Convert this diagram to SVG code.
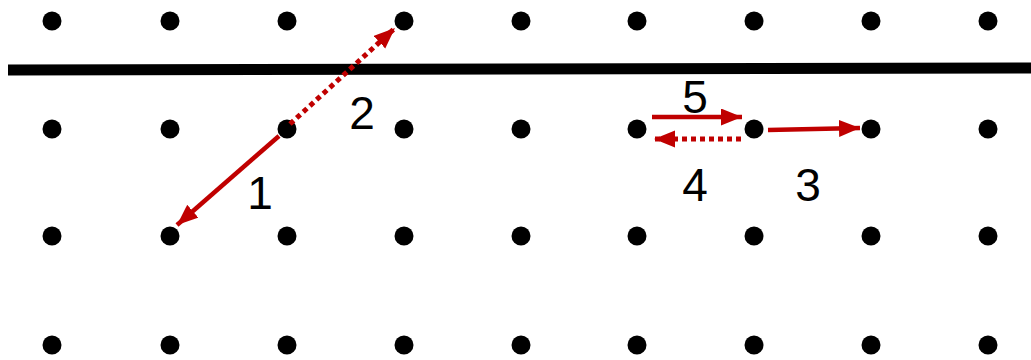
<svg xmlns="http://www.w3.org/2000/svg" width="1031" height="360" viewBox="0 0 1031 360">
<defs>
<style>
.dot{fill:#000}
.arr{stroke:#C00000;stroke-width:4.5;fill:none;marker-end:url(#ah)}
.dash{stroke-dasharray:5 4;stroke-width:5}
.lbl{font-family:"Liberation Sans",Arial,sans-serif;font-size:46px;fill:#000;text-anchor:middle}
</style>
<marker id="ah" markerUnits="userSpaceOnUse" markerWidth="24" markerHeight="18" refX="21" refY="8.5" orient="auto">
<path d="M0,0 L21,8.5 L0,17 z" fill="#C00000"/>
</marker>
</defs>
<rect width="1031" height="360" fill="#fff"/>
<g id="boundary"><line x1="8" y1="70" x2="1031" y2="68" stroke="#000" stroke-width="11"/></g>
<g id="dots">
<g id="r1"><circle class="dot" cx="52" cy="21" r="9.5"/><circle class="dot" cx="170" cy="21" r="9.5"/><circle class="dot" cx="287" cy="21" r="9.5"/><circle class="dot" cx="404" cy="21" r="9.5"/><circle class="dot" cx="521" cy="21" r="9.5"/><circle class="dot" cx="637" cy="21" r="9.5"/><circle class="dot" cx="754" cy="21" r="9.5"/><circle class="dot" cx="871" cy="21" r="9.5"/><circle class="dot" cx="988" cy="21" r="9.5"/></g>
<g id="r2"><circle class="dot" cx="52" cy="129" r="9.5"/><circle class="dot" cx="170" cy="129" r="9.5"/><circle class="dot" cx="287" cy="129" r="9.5"/><circle class="dot" cx="404" cy="129" r="9.5"/><circle class="dot" cx="521" cy="129" r="9.5"/><circle class="dot" cx="637" cy="129" r="9.5"/><circle class="dot" cx="754" cy="129" r="9.5"/><circle class="dot" cx="871" cy="129" r="9.5"/><circle class="dot" cx="988" cy="129" r="9.5"/></g>
<g id="r3"><circle class="dot" cx="52" cy="236" r="9.5"/><circle class="dot" cx="170" cy="236" r="9.5"/><circle class="dot" cx="287" cy="236" r="9.5"/><circle class="dot" cx="404" cy="236" r="9.5"/><circle class="dot" cx="521" cy="236" r="9.5"/><circle class="dot" cx="637" cy="236" r="9.5"/><circle class="dot" cx="754" cy="236" r="9.5"/><circle class="dot" cx="871" cy="236" r="9.5"/><circle class="dot" cx="988" cy="236" r="9.5"/></g>
<g id="r4"><circle class="dot" cx="52" cy="345" r="9.5"/><circle class="dot" cx="170" cy="345" r="9.5"/><circle class="dot" cx="287" cy="345" r="9.5"/><circle class="dot" cx="404" cy="345" r="9.5"/><circle class="dot" cx="521" cy="345" r="9.5"/><circle class="dot" cx="637" cy="345" r="9.5"/><circle class="dot" cx="754" cy="345" r="9.5"/><circle class="dot" cx="871" cy="345" r="9.5"/><circle class="dot" cx="988" cy="345" r="9.5"/></g>
</g>
<g id="connectors">
<line class="arr" x1="279" y1="136" x2="177" y2="225"/>
<line class="arr dash" x1="290" y1="124" x2="395" y2="28"/>
<line class="arr" x1="768" y1="130" x2="860" y2="128"/>
<line class="arr dash" x1="741" y1="139" x2="654" y2="139"/>
<line class="arr" x1="652" y1="117" x2="742" y2="117"/>
</g>
<g id="labels">
<text class="lbl" x="260" y="209">1</text>
<text class="lbl" x="362" y="129">2</text>
<text class="lbl" x="808" y="201">3</text>
<text class="lbl" x="695" y="201">4</text>
<text class="lbl" x="695" y="113">5</text>
</g>
</svg>
